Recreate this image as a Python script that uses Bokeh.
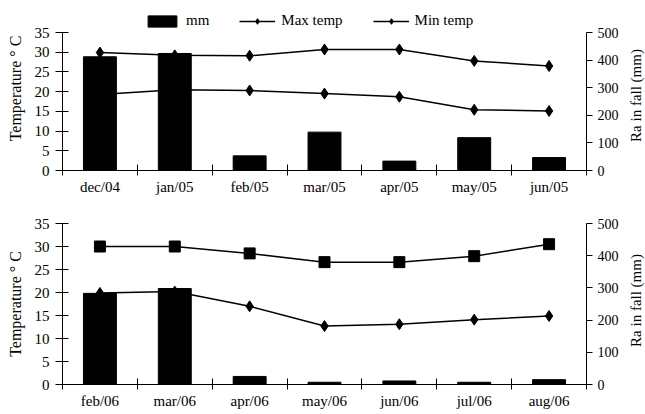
import math
from bokeh.plotting import figure
from bokeh.models import Range1d, LinearAxis, FixedTicker, Legend, LegendItem, ColumnDataSource, Label
from bokeh.layouts import column, row
from bokeh.embed import file_html
from bokeh.resources import INLINE

# ---- data ----
top_months = ["dec/04", "jan/05", "feb/05", "mar/05", "apr/05", "may/05", "jun/05"]
top_rain = [412, 424, 53, 139, 34, 119, 47]
top_max = [29.9, 29.2, 29.1, 30.7, 30.7, 27.8, 26.5]
top_min = [19.3, 20.5, 20.3, 19.5, 18.7, 15.4, 15.1]

bot_months = ["feb/06", "mar/06", "apr/06", "may/06", "jun/06", "jul/06", "aug/06"]
bot_rain = [283, 298, 25, 7, 11, 7, 15]
bot_max = [30.0, 30.0, 28.5, 26.6, 26.6, 27.9, 30.5]
bot_min = [19.9, 20.2, 17.0, 12.7, 13.1, 14.1, 14.9]

temp_ticks = [0, 5, 10, 15, 20, 25, 30, 35]
rain_ticks = [0, 100, 200, 300, 400, 500]
TEMP_MAX = 35
RAIN_MAX = 500
RAIN_LABEL = "Ra in fall (mm)"

FONT = "Liberation Serif"


def make_fig(months, rain, tmax, tmin, max_marker, frame_h, axis_h, b_top, b_bottom, with_legend):
    """frame_h: full frame height; axis_h: pixel height used by the 0..35 axis."""
    n = len(months)
    xs = [i + 0.5 for i in range(n)]
    k = frame_h / axis_h
    src = ColumnDataSource(dict(x=xs, rain=rain, tmax=tmax, tmin=tmin))
    p = figure(x_range=Range1d(0, n), y_range=Range1d(0, TEMP_MAX * k),
               frame_width=524, frame_height=frame_h,
               min_border_left=62, min_border_right=34,
               min_border_top=b_top, min_border_bottom=b_bottom,
               toolbar_location=None, output_backend="svg")
    p.extra_y_ranges = {"rain": Range1d(0, RAIN_MAX * k)}
    p.outline_line_color = None
    p.grid.visible = False
    p.background_fill_color = "white"

    # lines (drawn first, behind bars)
    l_max = p.line("x", "tmax", source=src, line_color="black", line_width=1.5)
    s_max = p.scatter("x", "tmax", source=src, marker=max_marker, size=11,
                      fill_color="black", line_color="black")
    l_min = p.line("x", "tmin", source=src, line_color="black", line_width=1.5)
    s_min = p.scatter("x", "tmin", source=src, marker="diamond", size=11,
                      fill_color="black", line_color="black")
    bars = p.vbar(x="x", top="rain", bottom=0, width=0.44, source=src,
                  y_range_name="rain", fill_color="black", line_color="black")

    # x axis
    xa = p.xaxis[0]
    xa.ticker = FixedTicker(ticks=xs, minor_ticks=list(range(n + 1)))
    xa.major_label_overrides = {x: m for x, m in zip(xs, months)}
    xa.major_tick_in = 0
    xa.major_tick_out = 0
    xa.minor_tick_in = 6
    xa.minor_tick_out = 5
    xa.minor_tick_line_color = "black"
    xa.axis_line_color = "black"
    xa.major_label_standoff = 3
    xa.major_label_text_font = FONT
    xa.major_label_text_font_size = "15px"
    xa.major_label_text_color = "black"

    # left axis
    ya = p.yaxis[0]
    ya.ticker = FixedTicker(ticks=temp_ticks)
    ya.bounds = (0, TEMP_MAX)
    ya.minor_tick_line_color = None
    ya.major_tick_in = 6
    ya.major_tick_out = 7
    ya.major_tick_line_color = "black"
    ya.axis_line_color = "black"
    ya.major_label_standoff = 6
    ya.major_label_text_font = FONT
    ya.major_label_text_font_size = "15px"
    ya.major_label_text_color = "black"
    ya.axis_label = "Temperature ° C"
    ya.axis_label_text_font = FONT
    ya.axis_label_text_font_size = "16px"
    ya.axis_label_text_font_style = "normal"
    ya.axis_label_text_color = "black"
    ya.axis_label_standoff = 8

    # right axis (its title is drawn in the side strip, reading bottom-to-top)
    ra = LinearAxis(y_range_name="rain", ticker=FixedTicker(ticks=rain_ticks),
                    bounds=(0, RAIN_MAX))
    ra.minor_tick_line_color = None
    ra.major_tick_in = 0
    ra.major_tick_out = 6
    ra.major_tick_line_color = "black"
    ra.axis_line_color = "black"
    ra.major_label_standoff = 5
    ra.major_label_text_font = FONT
    ra.major_label_text_font_size = "14px"
    ra.major_label_text_color = "black"
    p.add_layout(ra, "right")

    if with_legend:
        legend = Legend(items=[
            LegendItem(label="mm", renderers=[bars]),
            LegendItem(label="Max temp", renderers=[l_max, s_max]),
            LegendItem(label="Min temp", renderers=[l_min, s_min]),
        ], orientation="horizontal", location=(82, frame_h - 9 - 14))
        legend.margin = 0
        legend.padding = 0
        legend.spacing = 30
        legend.glyph_width = 36
        legend.glyph_height = 14
        legend.label_height = 14
        legend.label_standoff = 6
        legend.label_text_font = FONT
        legend.label_text_font_size = "15px"
        legend.label_text_color = "black"
        legend.border_line_color = None
        legend.background_fill_alpha = 0
        p.add_layout(legend, "center")
    return p


# top: frame spans y=6..170 on the page, the 0..35 axis spans 32..170
p1 = make_fig(top_months, top_rain, top_max, top_min, "diamond", 164, 138, 6, 27, True)
# bottom: frame spans 223..384
p2 = make_fig(bot_months, bot_rain, bot_max, bot_min, "square", 161, 161, 26, 27, False)

# narrow strip holding the two rotated "rain fall" titles
H = 411
strip = figure(width=25, height=H, x_range=Range1d(0, 25), y_range=Range1d(0, H),
               min_border=0, toolbar_location=None, output_backend="svg",
               x_axis_location=None, y_axis_location=None)
strip.outline_line_color = None
strip.grid.visible = False
for cy in (95, 300):
    strip.add_layout(Label(x=14, y=H - cy, text=RAIN_LABEL, angle=math.pi / 2,
                           text_align="center", text_baseline="middle",
                           text_font=FONT, text_font_size="15px", text_color="black"))

layout = row(column(p1, p2, spacing=0), strip, spacing=0)
open("out.html", "w").write(file_html(layout, INLINE))
